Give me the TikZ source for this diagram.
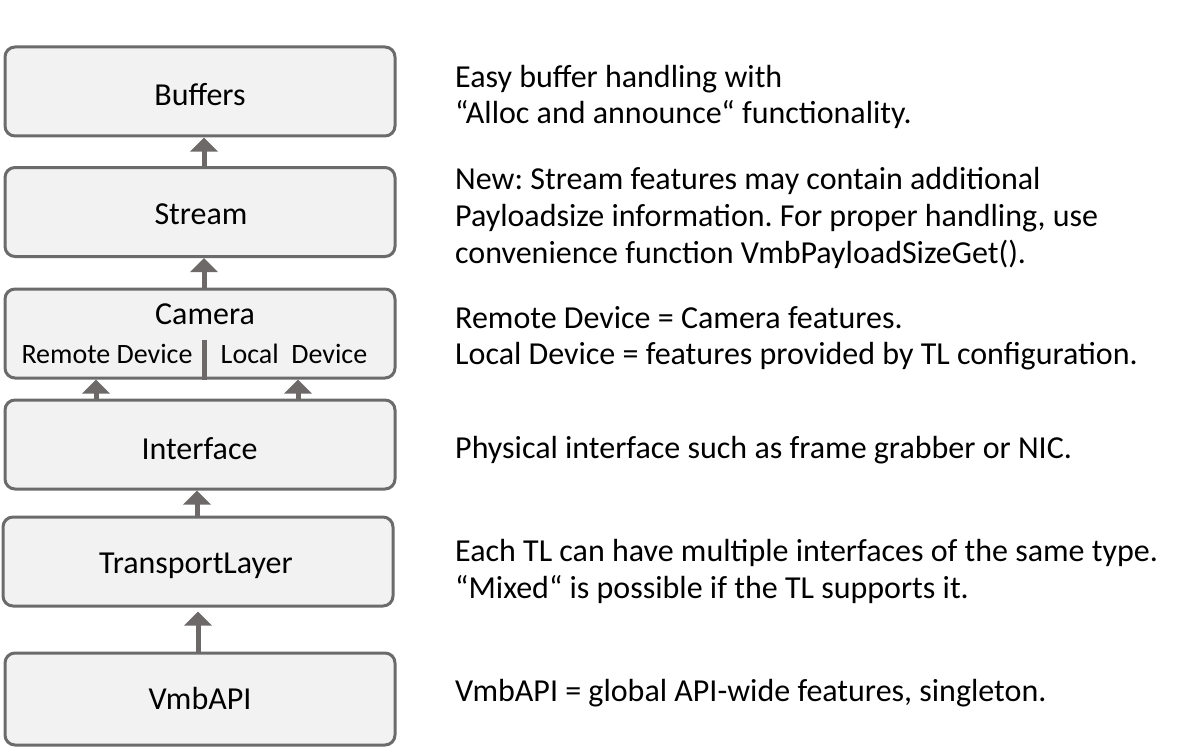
\documentclass[tikz,border=0pt]{standalone}
\usepackage{fontspec}
\setmainfont{Carlito}
\usetikzlibrary{arrows.meta,calc}
\frenchspacing
\definecolor{boxfill}{HTML}{F2F2F2}
\definecolor{boxline}{HTML}{6B6B6B}
\definecolor{arrowcol}{HTML}{6D6968}
\tikzset{
  layer/.style={draw=boxline, line width=3pt, fill=boxfill, rounded corners=10pt,
    minimum width=390pt, minimum height=89pt, inner sep=0pt},
  boxtext/.style={anchor=base, inner sep=0pt, font=\fontsize{32}{38}\selectfont},
  sublabel/.style={anchor=base, inner sep=0pt, font=\fontsize{28}{34}\selectfont},
  desc/.style={anchor=base west, inner sep=0pt, font=\fontsize{32}{38}\selectfont},
  uparrow/.style={draw=arrowcol, line width=5pt,
    -{Triangle[width=27pt,length=14pt,fill=arrowcol]}},
  divider/.style={draw=arrowcol, line width=5pt}
}
\begin{document}
\begin{tikzpicture}[x=1pt,y=-1pt]
\useasboundingbox (0,0) rectangle (1188,749);
% layer boxes
\node[layer] (buffers) at (200,91.5) {};
\node[layer] (stream) at (200,212) {};
\node[layer] (camera) at (200,333.5) {};
\node[layer] (interface) at (200,444.5) {};
\node[layer] (tl) at (198,561.5) {};
\node[layer, minimum height=92pt] (vmb) at (200,699) {};
% box texts
\node[boxtext] (tbuffers) at (200,106) {Buffers};
\node[boxtext] (tstream) at (201,224) {Stream};
\node[boxtext] (tcamera) at (205,324) {Camera};
\node[sublabel] (remote) at (107,363) {Remote Device};
\node[sublabel] (local) at (294,363) {Local\ \ Device};
\node[boxtext] (tinterface) at (199.5,459) {Interface};
\node[boxtext] (ttl) at (196,573) {TransportLayer};
\node[boxtext] (tvmb) at (200,709) {VmbAPI};
\draw[divider] ($(camera.south)+(4,0)$) -- ($(camera.south)+(4,-40)$);
% arrows
\draw[uparrow] ($(stream.north)+(4,0)$) -- ($(buffers.south)+(4,0)$);
\draw[uparrow] ($(camera.north)+(4,0)$) -- ($(stream.south)+(4,0)$);
\draw[uparrow] ($(interface.north)+(-104,0)$) -- ($(camera.south)+(-104,0)$);
\draw[uparrow] ($(interface.north)+(98,0)$) -- ($(camera.south)+(98,0)$);
\draw[uparrow] ($(tl.north)+(-1,0)$) -- ($(interface.south)+(-3,0)$);
\draw[uparrow] ($(vmb.north)+(-2,0)$) -- ($(tl.south)+(0,4)$);
% descriptions
\node[desc] (d1a) at (455,88) {Easy buffer handling with};
\node[desc] (d1b) at (455,124) {“Alloc and announce“ functionality.};
\node[desc] (d2a) at (455,189) {New: Stream features may contain additional};
\node[desc] (d2b) at (455,226) {Payloadsize information. For proper handling, use};
\node[desc] (d2c) at (455,263) {convenience function VmbPayloadSizeGet().};
\node[desc] (d3a) at (455,328) {Remote Device = Camera features.};
\node[desc] (d3b) at (455,364) {Local Device = features provided by TL configuration.};
\node[desc] (d4) at (455,458) {Physical interface such as frame grabber or NIC.};
\node[desc] (d5a) at (455,561) {Each TL can have multiple interfaces of the same type.};
\node[desc] (d5b) at (455,598) {“Mixed“ is possible if the TL supports it.};
\node[desc] (d6) at (455,701) {VmbAPI = global API-wide features, singleton.};
\end{tikzpicture}
\end{document}
